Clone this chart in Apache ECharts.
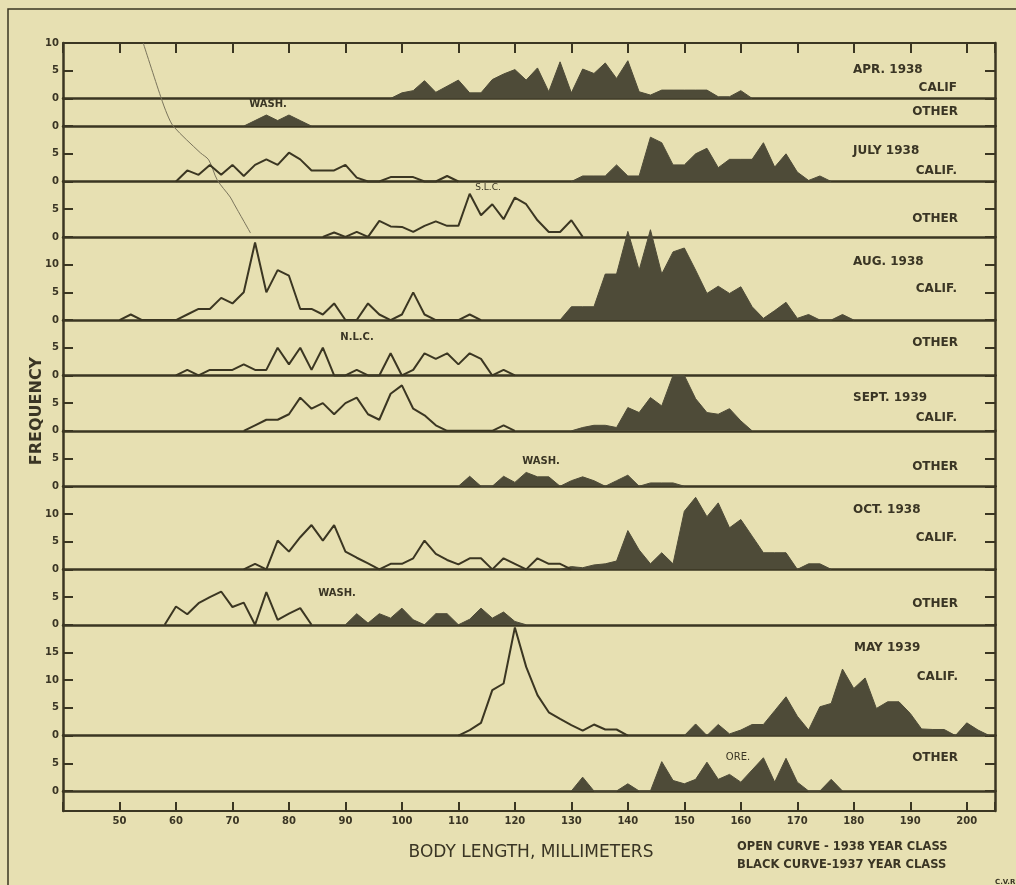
<!DOCTYPE html>
<html><head><meta charset="utf-8">
<script src="https://cdn.jsdelivr.net/npm/echarts@6/dist/echarts.min.js"></script>
<style>html,body{margin:0;padding:0;background:#e7e0b2;}#c{width:1016px;height:885px;}</style>
</head><body><div id="c"></div>
<script>
// ---- data: [body length mm, frequency] ----
const aprCalifBlack = [[98,0],[100,1],[102,1.4],[104,3.2],[106,1.1],[108,2.2],[110,3.3],[112,1],[114,1],[116,3.4],[118,4.4],[120,5.2],[122,3.3],[124,5.5],[126,1.2],[128,6.6],[130,1],[132,5.3],[134,4.5],[136,6.4],[138,3.6],[140,6.8],[142,1.2],[144,0.6],[146,1.5],[148,1.5],[150,1.5],[152,1.5],[154,1.5],[156,0.3],[158,0.3],[160,1.4],[162,0]];
const aprOtherBlack = [[72,0],[74,1],[76,2],[78,1],[80,2],[82,1],[84,0]];
const julyCalifOpen = [[60,0],[62,2],[64,1.2],[66,3],[68,1.2],[70,3],[72,1],[74,3],[76,4],[78,3],[80,5.2],[82,4],[84,2],[86,2],[88,2],[90,3],[92,0.7],[94,0],[96,0],[98,0.8],[100,0.8],[102,0.8],[104,0],[106,0],[108,1],[110,0]];
const julyCalifBlack = [[130,0],[132,1],[134,1],[136,1],[138,3],[140,1],[142,1],[144,8],[146,7],[148,3],[150,3],[152,5],[154,6],[156,2.5],[158,4],[160,4],[162,4],[164,7],[166,2.6],[168,5],[170,1.7],[172,0.2],[174,1],[176,0]];
const julyOtherOpen = [[86,0],[88,0.8],[90,0],[92,0.9],[94,0],[96,2.9],[98,1.9],[100,1.8],[102,0.9],[104,2],[106,2.8],[108,2],[110,2],[112,7.8],[114,3.9],[116,5.9],[118,3.2],[120,7.1],[122,5.9],[124,3],[126,0.9],[128,0.9],[130,3],[132,0]];
const augCalifOpen = [[50,0],[52,1],[54,0],[60,0],[62,1],[64,2],[66,2],[68,4],[70,3],[72,5],[74,14],[76,5],[78,9],[80,8],[82,2],[84,2],[86,1],[88,3],[90,0],[92,0],[94,3],[96,1],[98,0],[100,1],[102,5],[104,1],[106,0],[110,0],[112,1],[114,0]];
const augCalifBlack = [[128,0],[130,2.4],[132,2.4],[134,2.4],[136,8.3],[138,8.3],[140,16],[142,9],[144,16.3],[146,8.3],[148,12.3],[150,13],[152,9],[154,4.8],[156,6.1],[158,4.8],[160,6],[162,2.4],[164,0.3],[166,1.7],[168,3.2],[170,0.3],[172,1],[174,0],[176,0],[178,1],[180,0]];
const augOtherOpen = [[60,0],[62,1],[64,0],[66,1],[68,1],[70,1],[72,2],[74,1],[76,1],[78,5],[80,2],[82,5],[84,1],[86,5],[88,0],[90,0],[92,1],[94,0],[96,0],[98,4],[100,0],[102,1],[104,4],[106,3],[108,4],[110,2],[112,4],[114,3],[116,0],[118,1],[120,0]];
const septCalifOpen = [[72,0],[74,1],[76,2],[78,2],[80,3],[82,6],[84,4],[86,5],[88,3],[90,5],[92,6],[94,3],[96,2],[98,6.7],[100,8.2],[102,4],[104,2.8],[106,1],[108,0],[116,0],[118,1],[120,0]];
const septCalifBlack = [[130,0],[132,0.6],[134,1],[136,1],[138,0.6],[140,4.2],[142,3.3],[144,6],[146,4.5],[148,10],[150,10],[152,5.8],[154,3.3],[156,3],[158,4],[160,1.8],[162,0]];
const septOtherBlack = [[110,0],[112,1.8],[114,0],[116,0],[118,1.8],[120,0.7],[122,2.5],[124,1.7],[126,1.7],[128,0],[130,1],[132,1.7],[134,1],[136,0],[138,1],[140,2],[142,0],[144,0.6],[146,0.6],[148,0.6],[150,0]];
const octCalifOpen = [[72,0],[74,1],[76,0],[78,5.2],[80,3.2],[82,5.8],[84,8],[86,5.2],[88,8],[90,3.2],[92,2.1],[94,1.1],[96,0],[98,1],[100,1],[102,2],[104,5.2],[106,2.8],[108,1.7],[110,0.9],[112,2],[114,2],[116,0],[118,2],[120,1],[122,0],[124,2],[126,1],[128,1],[130,0]];
const octCalifBlack = [[128,0],[130,0.5],[132,0.3],[134,0.8],[136,1],[138,1.5],[140,7],[142,3.5],[144,1],[146,3],[148,1],[150,10.5],[152,13],[154,9.5],[156,12],[158,7.5],[160,9],[162,6],[164,3],[166,3],[168,3],[170,0],[172,1],[174,1],[176,0]];
const octOtherOpen = [[58,0],[60,3.3],[62,1.9],[64,3.9],[66,5],[68,6],[70,3.2],[72,4],[74,0],[76,5.9],[78,0.9],[80,2],[82,3],[84,0]];
const octOtherBlack = [[90,0],[92,2],[94,0.3],[96,2],[98,1.2],[100,3],[102,0.9],[104,0],[106,2],[108,2],[110,0],[112,1],[114,3],[116,1.2],[118,2.3],[120,0.6],[122,0]];
const mayCalifOpen = [[110,0],[112,1],[114,2.3],[116,8.2],[118,9.4],[120,19.5],[122,12.4],[124,7.3],[126,4.2],[128,3],[130,1.9],[132,0.9],[134,2],[136,1.1],[138,1.1],[140,0]];
const mayCalifBlack = [[150,0],[152,2.1],[154,0],[156,2],[158,0.3],[160,1],[162,2],[164,2],[166,4.5],[168,7],[170,3.5],[172,1],[174,5.2],[176,5.8],[178,12],[180,8.5],[182,10.4],[184,4.9],[186,6.1],[188,6.1],[190,4],[192,1.2],[194,1.1],[196,1.1],[198,0],[200,2.3],[202,1],[204,0]];
const mayOtherBlack = [[130,0],[132,2.5],[134,0],[136,0],[138,0],[140,1.3],[142,0],[144,0],[146,5.3],[148,1.9],[150,1.3],[152,2.1],[154,5.2],[156,2.1],[158,3],[160,1.6],[162,3.8],[164,6],[166,1.6],[168,5.9],[170,1.6],[172,0],[174,0],[176,2.1],[178,0]];
// faint pencil guide line (mm, stacked frequency units above Aug. baseline top)
const guideLine = [[54.2,35],[57.3,25.3],[58.5,22],[59.6,19.9],[64.3,15.2],[65.8,13.9],[67.3,10.3],[69.6,7.2],[70.2,6.1],[73.2,0.7]];
const xTickLabels = [50,60,70,80,90,100,110,120,130,140,150,160,170,180,190,200];
const panelMax = [10,5,10,10,15,10,10,10,15,10,20,10];

// ---- styling / layout ----
const LINE = '#3b3622', FILL = '#4e4b38', TXT = '#3a3524';
const FONT = "'DejaVu Sans', Verdana, sans-serif";
const TOP = 43, BASE_BOTTOM = 791, X_MIN = 40, X_MAX = 205;
const UNIT = (BASE_BOTTOM - TOP) / panelMax.reduce((a,b)=>a+b,0);
const GL = 63, GR = 21;

const panels = [
  {open:null, black:aprCalifBlack},
  {open:null, black:aprOtherBlack},
  {open:julyCalifOpen, black:julyCalifBlack},
  {open:julyOtherOpen, black:null},
  {open:augCalifOpen, black:augCalifBlack},
  {open:augOtherOpen, black:null},
  {open:septCalifOpen, black:septCalifBlack},
  {open:null, black:septOtherBlack},
  {open:octCalifOpen, black:octCalifBlack},
  {open:octOtherOpen, black:octOtherBlack},
  {open:mayCalifOpen, black:mayCalifBlack},
  {open:null, black:mayOtherBlack}
];

const grids=[], xAxes=[], yAxes=[], series=[];
let cum = 0;
panels.forEach((p,i)=>{
  const max = panelMax[i];
  const top = TOP + cum*UNIT; cum += max;
  grids.push({left:GL, right:GR, top:top, height:max*UNIT});
  const xi = xAxes.length;
  xAxes.push({gridIndex:i, type:'value', min:X_MIN, max:X_MAX, position:'bottom',
    axisLine:{show:true,onZero:false,lineStyle:{color:LINE,width:2.5}}, axisTick:{show:false},
    axisLabel:{show:false}, splitLine:{show:false}});
  if(i===0){
    xAxes.push({gridIndex:0, type:'value', min:X_MIN, max:X_MAX, interval:10, position:'top',
      axisLine:{show:true,onZero:false,lineStyle:{color:LINE,width:2}},
      axisTick:{show:true,inside:true,length:10,lineStyle:{color:LINE,width:2}},
      axisLabel:{show:false}, splitLine:{show:false}});
  }
  const yi = yAxes.length;
  yAxes.push({gridIndex:i, type:'value', min:0, max:max, interval:5, position:'left',
    axisLine:{show:true,lineStyle:{color:LINE,width:2.5}},
    axisTick:{show:true,inside:true,length:10,lineStyle:{color:LINE,width:2}},
    axisLabel:{show:true, showMaxLabel: i===0, margin:4, color:TXT, fontSize:10, fontWeight:'bold', fontFamily:FONT},
    splitLine:{show:false}});
  yAxes.push({gridIndex:i, type:'value', min:0, max:max, interval:5, position:'right',
    axisLine:{show:true,lineStyle:{color:LINE,width:2.5}},
    axisTick:{show:true,inside:true,length:10,lineStyle:{color:LINE,width:2}},
    axisLabel:{show:false}, splitLine:{show:false}});
  if(p.black) series.push({type:'line', xAxisIndex:xi, yAxisIndex:yi, data:p.black, symbol:'none', clip:false, z:3,
    lineStyle:{color:FILL,width:1}, areaStyle:{color:FILL,opacity:1}});
  if(p.open) series.push({type:'line', xAxisIndex:xi, yAxisIndex:yi, data:p.open, symbol:'none', clip:false, z:4,
    lineStyle:{color:LINE,width:2}});
});

// bottom axis band
const bi = grids.length;
grids.push({left:GL, right:GR, top:BASE_BOTTOM, height:20});
xAxes.push({gridIndex:bi, type:'value', min:X_MIN, max:X_MAX, interval:10, position:'bottom',
  axisLine:{show:true,onZero:false,lineStyle:{color:LINE,width:2}},
  axisTick:{show:true,inside:true,length:9,lineStyle:{color:LINE,width:2}},
  axisLabel:{show:true, margin:5, color:TXT, fontSize:10, fontWeight:'bold', fontFamily:FONT,
    formatter:v=> xTickLabels.indexOf(v)>=0 ? String(v) : ''},
  splitLine:{show:false}});
yAxes.push({gridIndex:bi, type:'value', min:0, max:1, position:'left', axisLine:{show:true,lineStyle:{color:LINE,width:2.5}}, axisTick:{show:false}, axisLabel:{show:false}, splitLine:{show:false}});
yAxes.push({gridIndex:bi, type:'value', min:0, max:1, position:'right', axisLine:{show:true,lineStyle:{color:LINE,width:2.5}}, axisTick:{show:false}, axisLabel:{show:false}, splitLine:{show:false}});

// overlay for the faint guide line (spans Apr.–July panels)
const oi = grids.length;
grids.push({left:GL, right:GR, top:TOP, height:35*UNIT});
const oxi = xAxes.length;
xAxes.push({gridIndex:oi, type:'value', min:X_MIN, max:X_MAX, show:false});
const oyi = yAxes.length;
yAxes.push({gridIndex:oi, type:'value', min:0, max:35, show:false});
series.push({type:'line', xAxisIndex:oxi, yAxisIndex:oyi, data:guideLine, symbol:'none', smooth:0.3, clip:false, z:2,
  lineStyle:{color:'#7a745c',width:1}});

// ---- text labels ----
function t(text,x,y,align,size,weight){
  return {type:'text', x:x, y:y, z:10, style:{text:text, fill:TXT, align:align, textAlign:align,
    verticalAlign:'middle', textVerticalAlign:'middle', font:(weight||'bold')+' '+size+'px '+FONT}};
}
const graphics = [
  {type:'rect', shape:{x:8,y:9,width:1100,height:1000}, style:{fill:'none',stroke:LINE,lineWidth:1.5}, z:0},
  t('APR. 1938',853,70,'left',12), t('CALIF',957,88,'right',12), t('OTHER',958,112,'right',12),
  t('WASH.',268,104,'center',10),
  t('JULY 1938',853,151,'left',12), t('CALIF.',957,171,'right',12), t('OTHER',958,219,'right',12),
  t('S.L.C.',488,188,'center',9,'normal'),
  t('AUG. 1938',853,262,'left',12), t('CALIF.',957,289,'right',12),
  t('N.L.C.',357,337,'center',10), t('OTHER',958,343,'right',12),
  t('SEPT. 1939',853,398,'left',12), t('CALIF.',957,418,'right',12),
  t('WASH.',541,461,'center',10), t('OTHER',958,467,'right',12),
  t('OCT. 1938',853,510,'left',12), t('CALIF.',957,538,'right',12),
  t('WASH.',337,593,'center',10), t('OTHER',958,604,'right',12),
  t('MAY 1939',854,648,'left',12), t('CALIF.',958,677,'right',12),
  t('ORE.',738,757,'center',10,'normal'), t('OTHER',958,758,'right',12),
  {type:'text', x:37, y:411, rotation:Math.PI/2, z:10, style:{text:'FREQUENCY', fill:TXT, align:'center', textAlign:'center', verticalAlign:'middle', textVerticalAlign:'middle', font:'bold 16px '+FONT}},
  t('BODY LENGTH, MILLIMETERS',531,853,'center',17,'normal'),
  t('OPEN CURVE - 1938 YEAR CLASS',737,847,'left',11.5),
  t('BLACK CURVE-1937 YEAR CLASS',737,865,'left',11.5),
  t('C.V.R.',995,882,'left',7)
];

const chart = echarts.init(document.getElementById('c'), null, {renderer:'canvas'});
chart.setOption({
  backgroundColor:'#e7e0b2',
  animation:false,
  grid:grids, xAxis:xAxes, yAxis:yAxes, series:series, graphic:graphics
});
</script></body></html>
